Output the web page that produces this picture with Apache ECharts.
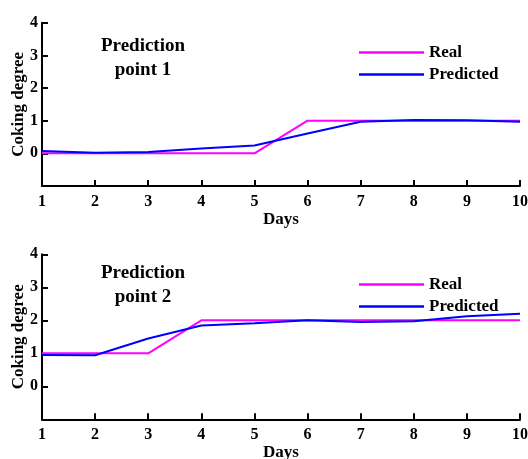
<!DOCTYPE html>
<html>
<head>
<meta charset="utf-8">
<script src="https://cdn.jsdelivr.net/npm/echarts@6/dist/echarts.min.js"></script>
<style>html,body{margin:0;padding:0;background:#fff}#c{width:528px;height:459px}</style>
</head>
<body>
<div id="c"></div>
<script>
const days = [1, 2, 3, 4, 5, 6, 7, 8, 9, 10];
const real1 = [0, 0, 0, 0, 0, 1, 1, 1, 1, 1];
const pred1 = [0.07, 0.02, 0.04, 0.15, 0.24, 0.61, 0.97, 1.02, 1.01, 0.97];
const real2 = [1, 1, 1, 2, 2, 2, 2, 2, 2, 2];
const pred2 = [0.95, 0.94, 1.45, 1.84, 1.91, 2.0, 1.95, 1.97, 2.12, 2.2];
const yTicks = [-1, 4];

const FONT = '"Liberation Serif", "Times New Roman", serif';
const chart = echarts.init(document.getElementById('c'), null, {renderer: 'canvas'});

function pairs(xs, ys) { return xs.map((x, i) => [x, ys[i]]); }

function xAxis(gi) {
  return {
    type: 'value', gridIndex: gi, min: 1, max: 10, interval: 1,
    name: 'Days', nameLocation: 'middle', nameGap: 25, nameMoveOverlap: false,
    nameTextStyle: {fontFamily: FONT, fontWeight: 'bold', fontSize: 17, color: '#000'},
    axisLine: {show: true, onZero: false, lineStyle: {color: '#000', width: 2}},
    axisTick: {show: true, inside: true, length: 6, lineStyle: {color: '#000', width: 2}},
    axisLabel: {fontFamily: FONT, fontWeight: 'bold', fontSize: 16, color: '#000', margin: 8},
    splitLine: {show: false}
  };
}
function yAxis(gi) {
  return {
    type: 'value', gridIndex: gi, min: yTicks[0], max: yTicks[1], interval: 1,
    name: 'Coking degree', nameLocation: 'middle', nameGap: 15, nameMoveOverlap: false,
    nameTextStyle: {fontFamily: FONT, fontWeight: 'bold', fontSize: 17, color: '#000'},
    axisLine: {show: true, onZero: false, lineStyle: {color: '#000', width: 2}},
    axisTick: {show: true, inside: true, length: 6, lineStyle: {color: '#000', width: 2}},
    axisLabel: {fontFamily: FONT, fontWeight: 'bold', fontSize: 16, color: '#000', margin: 4,
      formatter: v => (v < 0 ? '' : String(v))},
    splitLine: {show: false}
  };
}
function line(name, gi, data, color) {
  return {
    type: 'line', name: name, xAxisIndex: gi, yAxisIndex: gi, data: data,
    showSymbol: false, symbol: 'none', lineStyle: {color: color, width: 2}, itemStyle: {color: color},
    animation: false
  };
}
function legend(top) {
  return {
    orient: 'vertical', left: 354, top: top, icon: 'rect', itemWidth: 65, itemHeight: 2.5,
    itemGap: 5, data: ['Real', 'Predicted'],
    textStyle: {fontFamily: FONT, fontWeight: 'bold', fontSize: 17, color: '#000', lineHeight: 17, padding: [0, 0, 0, 0]}
  };
}

chart.setOption({
  animation: false,
  grid: [
    {left: 42, right: 8, top: 22.7, height: 163.3, containLabel: false, outerBoundsMode: 'none'},
    {left: 42, right: 8, top: 254.3, height: 165, containLabel: false, outerBoundsMode: 'none'}
  ],
  xAxis: [xAxis(0), xAxis(1)],
  yAxis: [yAxis(0), yAxis(1)],
  legend: [legend(39), legend(271)],
  graphic: [
    {type: 'text', x: 143, y: 34, style: {text: 'Prediction\npoint 1', textAlign: 'center', fontFamily: FONT, fontWeight: 'bold', fontSize: 19, lineHeight: 24, fill: '#000'}},
    {type: 'text', x: 143, y: 261, style: {text: 'Prediction\npoint 2', textAlign: 'center', fontFamily: FONT, fontWeight: 'bold', fontSize: 19, lineHeight: 24, fill: '#000'}}
  ],
  series: [
    line('Real', 0, pairs(days, real1), '#ff00ff'),
    line('Predicted', 0, pairs(days, pred1), '#0000ff'),
    line('Real', 1, pairs(days, real2), '#ff00ff'),
    line('Predicted', 1, pairs(days, pred2), '#0000ff')
  ]
});
</script>
</body>
</html>
